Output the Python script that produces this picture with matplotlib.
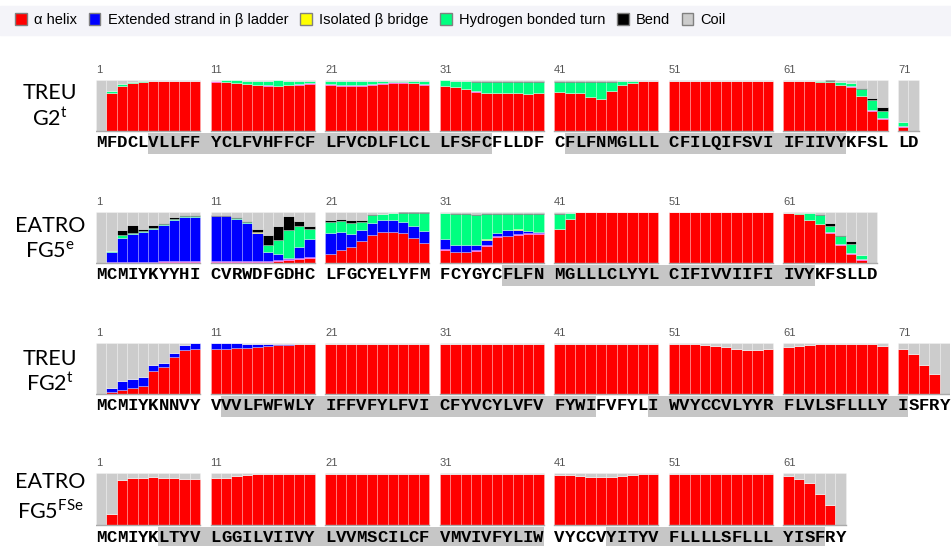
import matplotlib.pyplot as plt
from matplotlib.patches import Rectangle, Patch

# DSSP class colours (bottom -> top of each stacked bar)
class_names = ['α helix', 'pi', 'Extended strand in β ladder', 'Isolated β bridge',
               'Hydrogen bonded turn', 'Bend', 'Coil']
class_colors = ['#ff0000', '#ff00ff', '#0000ff', '#ffff00', '#00ff80', '#000000', '#cccccc']
legend_order = [0, 2, 3, 4, 5, 6]

# ---- TREU G2t ----
g2t_seq = "MFDCLVLLFFYCLFVHFFCFLFVCDLFLCLLFSFCFLLDFCFLFNMGLLLCFILQIFSVIIFIIVYKFSLLD"
g2t_tm = [(6, 35), (42, 66)]
g2t_helix = ([0, .74, .89, .95, .97, .99, .99, .99, .99, .99]
             + [.97, .955, .935, .92, .90, .89, .885, .90, .91, .93]
             + [.91, .89, .89, .89, .91, .93, .95, .95, .94, .91]
             + [.885, .865, .82, .77, .745, .74, .74, .745, .725, .74]
             + [.755, .75, .745, .66, .63, .78, .90, .95, .98, .99]
             + [.99] * 10
             + [.99, .99, .99, .97, .96, .91, .87, .68, .385, .23]
             + [.08, 0])
g2t_pi = ([0] * 10 + [.006] * 30 + [0] * 20
          + [0, 0, 0, 0, 0, 0, .005, .01, .02, .02] + [.02, 0])
g2t_strand = [0] * 72
g2t_bridge = [0] * 72
g2t_turn = ([0, .04, .03, .02, .01, 0, 0, 0, 0, 0]
            + [.01, .03, .05, .06, .08, .09, .10, .08, .07, .05]
            + [.07, .09, .09, .09, .07, .05, .03, .03, .04, .07]
            + [.10, .11, .145, .19, .21, .215, .215, .21, .23, .215]
            + [.205, .215, .22, .295, .325, .185, .075, .035, .01, 0]
            + [0] * 10
            + [0, 0, 0, .02, .03, .05, .06, .13, .205, .15]
            + [.07, 0])
g2t_bend = ([0] * 30
            + [0, 0, 0, .005, .01, .01, .015, .015, .015, .015]
            + [.015, .01, .01, .02, .02, .01, .005, 0, 0, 0]
            + [0] * 10
            + [0, 0, 0, 0, .005, .005, .01, .03, .04, .07]
            + [0, 0])

# ---- EATRO FG5e ----
fg5e_seq = "MCMIYKYYHICVRWDFGDHCLFGCYELYFMFCYGYCFLFNMGLLLCLYYLCIFIVVIIFIIVYKFSLLD"
fg5e_tm = [(37, 63)]
fg5e_helix = ([0, 0, 0, 0, 0, 0, .01, .01, .01, .01]
              + [.02, .02, .02, .02, .02, .02, .03, .06, .085, .10]
              + [.18, .26, .31, .425, .555, .60, .61, .59, .50, .39]
              + [.26, .21, .21, .23, .34, .51, .52, .555, .575, .575]
              + [.67, .87, 1, 1, 1, 1, 1, 1, 1, 1]
              + [1] * 10
              + [.98, .96, .84, .765, .59, .36, .18, .065, 0])
fg5e_pi = ([0, .01, .02, .02, .02, .02, .02, .02, .02, .02]
           + [.01, .01, .01, .01, .01, .01, .02, .02, .02, .02]
           + [0] * 10
           + [.01, .015, .015, .02, .01, .01, .01, .01, .01, .02]
           + [0] * 20
           + [0, 0, 0, .005, .01, .02, .02, .01, 0])
fg5e_strand = ([0, .20, .47, .555, .59, .65, .71, .82, .865, .87]
               + [.885, .885, .84, .755, .56, .18, .13, .02, .205, .35]
               + [.41, .35, .26, .23, .23, .24, .24, .21, .22, .24]
               + [.20, .135, .135, .11, .11, .07, .11, .09, .05, .02]
               + [0] * 29)
fg5e_bridge = ([0] * 14 + [.01, .01, 0, 0, 0, .01]
               + [0] * 10
               + [.005, 0, 0, 0, .005, .005, .005, .005, 0, 0]
               + [0] * 29)
fg5e_turn = ([0, .03, .05, .015, .02, .02, .025, .02, .02, .03]
             + [.005, 0, .01, .015, .015, .13, .28, .55, .41, .19]
             + [.21, .21, .215, .145, .165, .12, .13, .19, .27, .36]
             + [.505, .605, .60, .59, .495, .37, .32, .305, .325, .34]
             + [.285, .11, 0, 0, 0, 0, 0, 0, 0, 0]
             + [0] * 10
             + [0, .03, .14, .18, .12, .14, .17, .075, 0])
fg5e_bend = ([0, 0, .11, .16, .04, .055, .025, .025, .02, .01]
             + [.02, .02, .02, .03, .05, .205, .27, .265, .11, .05]
             + [.05, .04, .055, .05, .02, .01, .01, .005, .005, .005]
             + [.01, .01, .015, .02, .015, .015, .015, .015, .02, .02]
             + [.025, .01, 0, 0, 0, 0, 0, 0, 0, 0]
             + [0] * 10
             + [0, 0, .01, .01, .065, .035, .055, 0, 0])

# ---- TREU FG2t ----
fg2t_seq = "MCMIYKNNVYVVVLFWFWLYIFFVFYLFVICFYVCYLVFVFYWIFVFYLIWVYCCVLYYRFLVLSFLLLYISFRY"
fg2t_tm = [(12, 44), (50, 71)]
fg2t_helix = ([0, .03, .085, .12, .15, .46, .53, .725, .87, .89]
              + [.88, .89, .90, .91, .93, .94, .955, .97, .99, .99]
              + [.99] * 30
              + [.99, .99, .985, .97, .95, .915, .89, .86, .86, .89]
              + [.915, .94, .97, .99, .99, .99, .99, .99, .99, .95]
              + [.88, .79, .575, .39, 0])
fg2t_pi = [0] * 75
fg2t_strand = ([0, .09, .175, .18, .18, .10, .07, .075, .095, .11]
               + [.12, .11, .095, .08, .06, .05, .035, .02, 0, 0]
               + [0] * 55)
fg2t_bridge = [0] * 75
fg2t_turn = [0] * 75
fg2t_bend = [0] * 75

# ---- EATRO FG5FSe ----
fg5fse_seq = "MCMIYKLTYVLGGILVIIVYLVVMSCILCFVMVIVFYLIWVYCCVYITYVFLLLLSFLLLYISFRY"
fg5fse_tm = [(7, 40), (46, 64)]
fg5fse_helix = ([0, .205, .865, .90, .91, .915, .90, .90, .88, .88]
                + [.90, .90, .935, .96, .975, .98, .99, .99, .99, .99]
                + [.99] * 20
                + [.97, .96, .94, .915, .915, .915, .935, .96, .98, .98]
                + [.99] * 10
                + [.935, .88, .81, .595, .39, 0])
fg5fse_pi = [0] * 66
fg5fse_strand = [0] * 66
fg5fse_bridge = [0] * 66
fg5fse_turn = [0] * 66
fg5fse_bend = [0] * 66

W, H = 951, 546
fig = plt.figure(figsize=(W / 100, H / 100), dpi=100)


def pos(i):
    # residues in blocks of ten, one empty slot between blocks
    return i + i // 10


def draw_row(seq, tm, layers, bar_top, bar_bot, lab1, lab2, ly1, ly2):
    unit = bar_bot - bar_top
    y0, y1 = -0.62, 1.45
    ax = fig.add_axes([96 / W, (H - (bar_bot - y0 * unit)) / H, 854 / W, (y1 - y0) * unit / H])
    ax.set_xlim(0, 82)
    ax.set_ylim(y0, y1)
    ax.axis('off')

    n = len(seq)
    xs = [pos(i) + 0.5 for i in range(n)]
    bottom = [0.0] * n
    for vals, col in zip(layers, class_colors[:-1]):
        ax.bar(xs, vals, bottom=bottom, width=1, color=col,
               edgecolor=(1, 1, 1, 0.35), linewidth=0.5)
        bottom = [b + v for b, v in zip(bottom, vals)]
    coil = [max(0.0, 1 - b) for b in bottom]
    ax.bar(xs, coil, bottom=bottom, width=1, color=class_colors[-1],
           edgecolor=(1, 1, 1, 0.35), linewidth=0.5)

    for b in range(0, n, 10):
        e = min(b + 10, n)
        ax.plot([pos(b), pos(e - 1) + 1], [0, 0], color='#aaaaaa', lw=1)
        ax.text(pos(b), 1.2, str(b + 1), fontsize=8, color='#555555',
                ha='left', va='center', family='Liberation Sans')

    for s, e in tm:
        ax.add_patch(Rectangle((pos(s - 1), -0.45), pos(e - 1) + 1 - pos(s - 1), 0.41,
                               color='#c6c6c6', zorder=0, lw=0))
    for i, ch in enumerate(seq):
        ax.text(pos(i) + 0.5, -0.235, ch, fontsize=12.5, fontweight='bold',
                family='Liberation Mono', ha='center', va='center')

    fig.text(50 / W, 1 - ly1 / H, lab1, fontsize=15.5, family='Lato', ha='center', va='center')
    fig.text(50 / W, 1 - ly2 / H, lab2, fontsize=15.5, family='Lato', ha='center', va='center')


draw_row(g2t_seq, g2t_tm, [g2t_helix, g2t_pi, g2t_strand, g2t_bridge, g2t_turn, g2t_bend],
         80, 131, 'TREU', r'G2$^{\mathregular{t}}$', 93, 119)
draw_row(fg5e_seq, fg5e_tm, [fg5e_helix, fg5e_pi, fg5e_strand, fg5e_bridge, fg5e_turn, fg5e_bend],
         212, 263, 'EATRO', r'FG5$^{\mathregular{e}}$', 226, 251)
draw_row(fg2t_seq, fg2t_tm, [fg2t_helix, fg2t_pi, fg2t_strand, fg2t_bridge, fg2t_turn, fg2t_bend],
         343, 394, 'TREU', r'FG2$^{\mathregular{t}}$', 359, 384)
draw_row(fg5fse_seq, fg5fse_tm, [fg5fse_helix, fg5fse_pi, fg5fse_strand, fg5fse_bridge, fg5fse_turn, fg5fse_bend],
         473, 525, 'EATRO', r'FG5$^{\mathregular{FSe}}$', 482, 511)

# legend band across the top
fig.patches.append(Rectangle((0, 1 - 35 / H), 1, 29 / H, transform=fig.transFigure,
                             color='#f4f4f9', zorder=0))
handles = [Patch(facecolor=class_colors[k], edgecolor='#808080', lw=1) for k in legend_order]
fig.legend(handles, [class_names[k] for k in legend_order], ncol=6, frameon=False,
           loc='center left', bbox_to_anchor=(2 / W, 1 - 20 / H),
           prop={'family': 'Liberation Sans', 'size': 10.5},
           handlelength=0.8, handleheight=0.9, handletextpad=0.5, columnspacing=0.8)

fig.savefig('out.png', dpi=100)
